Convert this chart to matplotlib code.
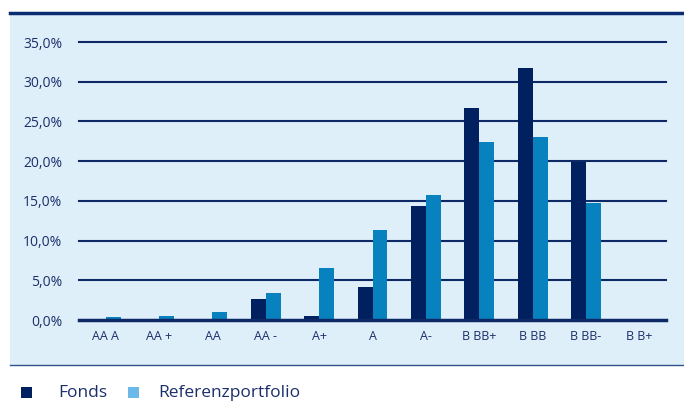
import numpy as np
import matplotlib
matplotlib.use("Agg")
from matplotlib import pyplot as plt
from matplotlib.patches import Rectangle

plt.rcParams["font.family"] = ["Open Sans", "DejaVu Sans"]

# Data (percent)
ratings = ["AA A", "AA +", "AA", "AA -", "A+", "A", "A-", "B BB+", "B BB", "B BB-", "B B+"]
fonds = [0.0, 0.0, 0.0, 2.6, 0.55, 4.1, 14.3, 26.7, 31.7, 19.9, 0.1]
referenz = [0.4, 0.55, 1.0, 3.4, 6.5, 11.3, 15.7, 22.4, 23.0, 14.7, 0.0]
yticks = [0, 5, 10, 15, 20, 25, 30, 35]
series_names = ["Fonds", "Referenzportfolio"]

navy = "#00205f"
mid = "#0782bf"
light = "#6bb9e8"
bg = "#dfeff9"
text_col = "#1b2f6a"

W, H = 684, 401
fig = plt.figure(figsize=(W / 100, H / 100), dpi=100)

# background panel
fig.patches.append(Rectangle((10 / W, 1 - 365 / H), 674 / W, 352 / H,
                             transform=fig.transFigure, facecolor=bg,
                             edgecolor="none", zorder=-5))
fig.add_artist(plt.Line2D([10 / W, 1], [1 - 13 / H] * 2, color="#0a2d72", lw=2.5))
fig.add_artist(plt.Line2D([10 / W, 1], [1 - 365 / H] * 2, color="#31548f", lw=1))

ax = fig.add_axes([79 / W, 1 - 320 / H, 587 / W, 278 / H])
ax.set_facecolor("none")
ax.set_zorder(2)

x = np.arange(len(ratings))
w = 0.28
ax.bar(x - w / 2, fonds, width=w, color=navy, zorder=3)
ax.bar(x + w / 2, referenz, width=w, color=mid, zorder=3)

for t in yticks[1:]:
    ax.axhline(t, color="#0e2a66", lw=1.5, zorder=1, clip_on=False)
ax.axhline(0, color="#0e2a66", lw=2.5, zorder=4, clip_on=False)

ax.set_xlim(-0.5, len(ratings) - 0.5)
ax.set_ylim(0, 35)
ax.set_xticks(x)
ax.set_xticklabels(ratings)
ax.set_yticks(yticks)
ax.set_yticklabels([f"{t},0%" for t in yticks])
ax.tick_params(length=0, colors=text_col, labelsize=9)
ax.tick_params(axis="y", pad=12, labelsize=10)
ax.tick_params(axis="x", pad=7)
for s in ax.spines.values():
    s.set_visible(False)

# legend drawn by hand (marker x, text x in pixels)
legend_pos = [(21, 58), (128, 158)]
for (mx, tx), name, col in zip(legend_pos, series_names, [navy, light]):
    fig.patches.append(Rectangle((mx / W, 1 - 398 / H), 11 / W, 11 / H,
                                 transform=fig.transFigure, facecolor=col,
                                 edgecolor="none"))
    fig.text(tx / W, 1 - 393 / H, name, fontsize=12.5, color=text_col,
             va="center", ha="left")

fig.savefig("out.png", dpi=100)
